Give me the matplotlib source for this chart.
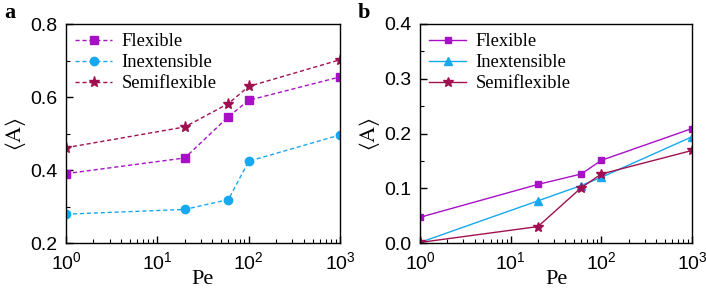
import matplotlib
matplotlib.use('Agg')
import matplotlib.pyplot as plt
import matplotlib.ticker as mtick


PE = [1, 20, 60, 100, 1000]

A_FLEX = [0.390, 0.433, 0.546, 0.591, 0.655]
A_INEXT = [0.279, 0.292, 0.319, 0.424, 0.496]
A_SEMI = [0.461, 0.518, 0.582, 0.629, 0.702]

B_FLEX = [0.047, 0.107, 0.126, 0.151, 0.209]
B_INEXT = [0.001, 0.077, 0.105, 0.120, 0.194]
B_SEMI = [0.001, 0.030, 0.101, 0.126, 0.169]

LABELS = ['Flexible', 'Inextensible', 'Semiflexible']
C_FLEX, C_INEXT, C_SEMI = '#a810c8', '#18a8f0', '#a01050'

plt.rcParams['font.family'] = 'Liberation Sans'
plt.rcParams['mathtext.fontset'] = 'stix'
plt.rcParams['axes.linewidth'] = 1.0

fig = plt.figure(figsize=(7.06, 2.99), dpi=100)
ax1 = fig.add_axes([66/706, 1-243/299, 274/706, 219/299])
ax2 = fig.add_axes([420/706, 1-243/299, 272/706, 219/299])

serif = {'family': 'Liberation Serif'}

ax1.plot(PE, A_FLEX, '--s', color=C_FLEX, lw=1, ms=5.5, dashes=(3, 2), label=LABELS[0])
ax1.plot(PE, A_INEXT, '--o', color=C_INEXT, lw=1, ms=6, dashes=(3, 2), label=LABELS[1])
ax1.plot(PE, A_SEMI, '--*', color=C_SEMI, lw=1, ms=8, dashes=(3, 2), label=LABELS[2])
ax1.set_ylim(0.2, 0.8)
ax1.yaxis.set_major_locator(mtick.MultipleLocator(0.2))
ax1.yaxis.set_minor_locator(mtick.MultipleLocator(0.1))
ax1.yaxis.set_major_formatter(mtick.FormatStrFormatter('%.1f'))

ax2.plot(PE, B_FLEX, '-s', color=C_FLEX, lw=1, ms=5, label=LABELS[0])
ax2.plot(PE, B_INEXT, '-^', color=C_INEXT, lw=1, ms=6, label=LABELS[1])
ax2.plot(PE, B_SEMI, '-*', color=C_SEMI, lw=1, ms=7.5, label=LABELS[2])
ax2.set_ylim(0, 0.4)
ax2.yaxis.set_major_locator(mtick.MultipleLocator(0.1))
ax2.yaxis.set_minor_locator(mtick.MultipleLocator(0.05))
ax2.yaxis.set_major_formatter(mtick.FormatStrFormatter('%.1f'))

for ax, tag in [(ax1, 'a'), (ax2, 'b')]:
    ax.set_xscale('log')
    ax.set_xlim(1, 1000)
    ax.xaxis.set_major_locator(mtick.LogLocator(base=10, numticks=5))
    ax.xaxis.set_minor_locator(mtick.LogLocator(base=10, subs=range(2, 10), numticks=10))
    ax.xaxis.set_minor_formatter(mtick.NullFormatter())
    ax.tick_params(which='both', direction='in', labelsize=14, top=False, right=False)
    ax.tick_params(which='major', length=5, width=1)
    ax.tick_params(which='minor', length=3, width=0.8)
    ax.tick_params(axis='x', which='major', pad=6)
    ax.tick_params(axis='y', which='major', pad=6)
    ax.set_xlabel('Pe', fontsize=16, labelpad=-2, **serif)
    ax.set_ylabel(r'$\langle\mathrm{A}\rangle$', fontsize=16, labelpad=2)
    ax.legend(loc='upper left', frameon=False, prop={'family': 'Liberation Serif', 'size': 13.3},
              handlelength=2.0, handletextpad=0.5, labelspacing=0.22,
              borderaxespad=0.2, borderpad=0.3)
    pos = ax.get_position()
    fig.text(pos.x0 - 62/706, 1 - 18/299, tag, fontsize=16, fontweight='bold', **serif)

fig.savefig('out.png', dpi=100)
